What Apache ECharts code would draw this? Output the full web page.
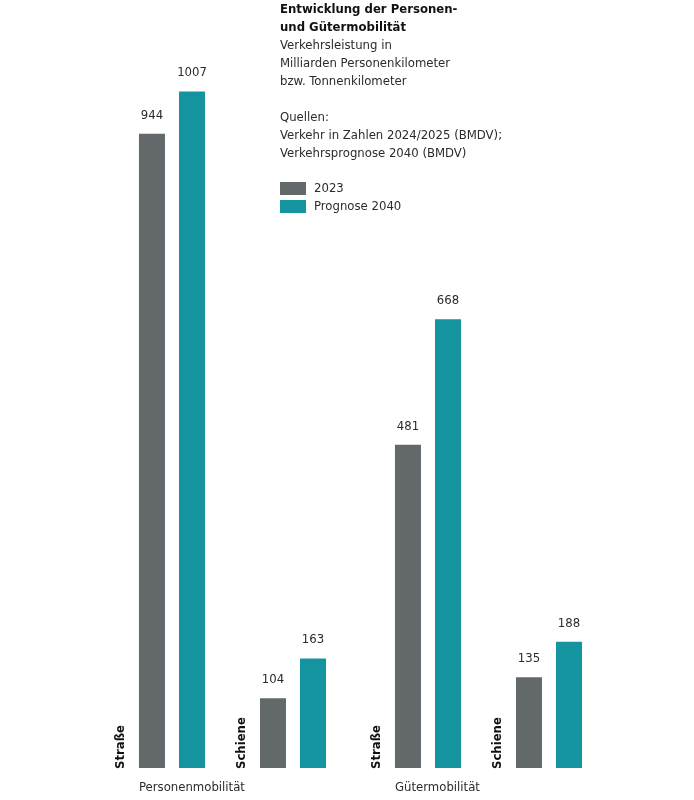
<!DOCTYPE html>
<html>
<head>
    <meta charset="utf-8">
    <title>Personen- und Gütermobilität</title>
    <script src="https://cdn.jsdelivr.net/npm/echarts@6/dist/echarts.min.js"></script>
    <style>
        html, body { margin: 0; padding: 0; background: #fff; }
    </style>
</head>
<body>
<div id="main" style="width: 694px;height:800px;"></div>
<script type="text/javascript">
    // Daten
    var categories = ['Straße', 'Schiene'];
    var groups = ['Personenmobilität', 'Gütermobilität'];
    var seriesNames = ['2023', 'Prognose 2040'];
    var personen2023 = [944, 104];
    var personen2040 = [1007, 163];
    var gueter2023 = [481, 135];
    var gueter2040 = [668, 188];

    var FONT = '"Liberation Sans Narrow", "DejaVu Sans Condensed", sans-serif';
    var FS = 13;
    var GRAY = '#63686b';
    var TEAL = '#14949f';
    var TEXT = '#2b2b2b';

    var myChart = echarts.init(document.getElementById('main'));

    function barSeries(name, data, idx, color) {
        return {
            name: name,
            type: 'bar',
            xAxisIndex: idx,
            yAxisIndex: idx,
            barWidth: 26,
            barGap: '54%',
            data: data,
            itemStyle: { color: color },
            label: {
                show: true,
                position: 'top',
                distance: 12,
                color: TEXT,
                fontFamily: FONT,
                fontSize: FS
            },
            emphasis: { disabled: true }
        };
    }

    // Kategorie-Beschriftung (senkrecht, links neben den Balken)
    function catLabels(idx) {
        return {
            type: 'custom',
            xAxisIndex: idx,
            yAxisIndex: idx,
            silent: true,
            data: categories.map(function (c, i) { return [i, c]; }),
            encode: { x: 0 },
            renderItem: function (params, api) {
                var p = api.coord([api.value(0), 0]);
                return {
                    type: 'text',
                    x: p[0] - 51,
                    y: p[1] + 1,
                    rotation: Math.PI / 2,
                    style: {
                        text: categories[params.dataIndex],
                        align: 'left',
                        verticalAlign: 'middle',
                        fill: '#111',
                        font: 'bold ' + FS + 'px ' + FONT
                    }
                };
            }
        };
    }

    var axisX = function (idx) {
        return {
            type: 'category',
            gridIndex: idx,
            data: categories,
            axisLine: { show: false },
            axisTick: { show: false },
            axisLabel: { show: false }
        };
    };
    var axisY = function (idx) {
        return {
            type: 'value',
            gridIndex: idx,
            min: 0,
            max: 1100,
            show: false,
            splitLine: { show: false }
        };
    };

    myChart.setOption({
        animation: false,
        textStyle: { fontFamily: FONT },
        title: [{
            left: 280,
            top: 1,
            padding: 0,
            itemGap: 0,
            text: 'Entwicklung der Personen-\nund Gütermobilität',
            textStyle: { fontFamily: FONT, fontSize: FS, fontWeight: 'bold', color: '#111', lineHeight: 18 },
            subtext: 'Verkehrsleistung in\nMilliarden Personenkilometer\nbzw. Tonnenkilometer\n\nQuellen:\nVerkehr in Zahlen 2024/2025 (BMDV);\nVerkehrsprognose 2040 (BMDV)',
            subtextStyle: { fontFamily: FONT, fontSize: FS, color: TEXT, lineHeight: 18 }
        }, {
            left: 139,
            top: 781,
            padding: 0,
            text: groups[0],
            textStyle: { fontFamily: FONT, fontSize: FS, fontWeight: 'normal', color: TEXT }
        }, {
            left: 395,
            top: 781,
            padding: 0,
            text: groups[1],
            textStyle: { fontFamily: FONT, fontSize: FS, fontWeight: 'normal', color: TEXT }
        }],
        legend: {
            orient: 'vertical',
            left: 280,
            top: 182,
            padding: 0,
            itemWidth: 26,
            itemHeight: 13,
            itemGap: 5,
            icon: 'rect',
            selectedMode: false,
            textStyle: { fontFamily: FONT, fontSize: FS, color: TEXT, padding: [0, 0, 0, 3] },
            data: seriesNames
        },
        grid: [
            { left: 111.5, width: 242, top: 29, bottom: 32 },
            { left: 367.5, width: 242, top: 29, bottom: 32 }
        ],
        xAxis: [axisX(0), axisX(1)],
        yAxis: [axisY(0), axisY(1)],
        series: [
            barSeries(seriesNames[0], personen2023, 0, GRAY),
            barSeries(seriesNames[1], personen2040, 0, TEAL),
            barSeries(seriesNames[0], gueter2023, 1, GRAY),
            barSeries(seriesNames[1], gueter2040, 1, TEAL),
            catLabels(0),
            catLabels(1)
        ]
    });
</script>
</body>
</html>
